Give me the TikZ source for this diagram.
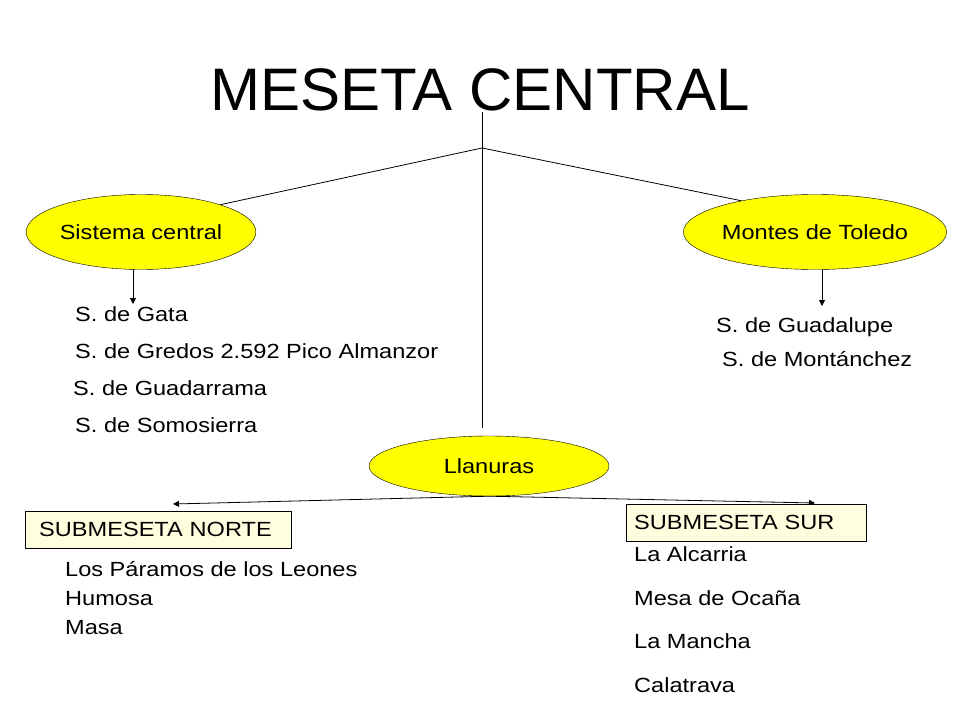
\documentclass[tikz,border=0pt]{standalone}
\usepackage{fontspec}
\setmainfont{Liberation Sans}
\newfontfamily\widefont[FakeStretch=1.15]{Liberation Sans}
\usetikzlibrary{shapes.geometric,arrows.meta}
\definecolor{ylw}{RGB}{255,255,0}
\definecolor{pale}{RGB}{255,255,224}
\begin{document}
\begin{tikzpicture}[x=1pt,y=-1pt,
  ell/.style={ellipse,draw,fill=ylw,inner sep=0pt,font=\widefont\fontsize{20.5}{24}\selectfont},
  lbl/.style={anchor=west,inner sep=0pt,font=\widefont\fontsize{20.5}{24}\selectfont},
  bx/.style={draw,fill=pale,anchor=north west,inner sep=0pt,font=\widefont\fontsize{20.5}{24}\selectfont},
  ln/.style={line width=0.8pt},
  arr/.style={line width=0.8pt,-{Triangle[length=6pt,width=6pt]}}]
\useasboundingbox (0,0) rectangle (960,720);
\node[font=\fontsize{60}{70}\selectfont] (title) at (480,90) {MESETA CENTRAL};
\node[ell,minimum width=213,minimum height=75] (sc) at (141,232) {Sistema central};
\node[ell,minimum width=236,minimum height=75] (mt) at (815,232) {Montes de Toledo};
\node[ell,minimum width=240,minimum height=60] (ll) at (489,466) {Llanuras};
\coordinate (top) at (482,112);
\coordinate (j) at (482,148);
\coordinate (bot) at (482,428);
\draw[ln] (top) -- (bot);
\draw[ln] (j) -- (sc.19);
\draw[ln] (j) -- (mt.157);
\coordinate (a1) at (133,304);
\coordinate (a2) at (822,306);
\draw[arr] (sc.south -| a1) -- (a1);
\draw[arr] (mt.south -| a2) -- (a2);
\coordinate (l1) at (173,504);
\coordinate (l2) at (815,503);
\draw[arr] (ll.south) -- (l1);
\draw[arr] (ll.south) -- (l2);
\node[bx,minimum width=266,minimum height=37,text width=256,align=left] (sn) at (25,511) {\hspace*{9pt}SUBMESETA NORTE};
\node[bx,minimum width=240,minimum height=37,text width=236,align=left] (ss) at (626,504) {\hspace*{6pt}SUBMESETA SUR};
\node[lbl] (t1) at (75,314) {S. de Gata};
\node[lbl] (t2) at (75,351) {S. de Gredos 2.592 Pico Almanzor};
\node[lbl] (t3) at (73,388) {S. de Guadarrama};
\node[lbl] (t4) at (75,425) {S. de Somosierra};
\node[lbl] (r1) at (716,327) {S. de Guadalupe};
\node[lbl] (r2) at (722,359) {S. de Montánchez};
\node[lbl] (n1) at (65,569) {Los Páramos de los Leones};
\node[lbl] (n2) at (65,599) {Humosa};
\node[lbl] (n3) at (65,628) {Masa};
\node[lbl] (s1) at (634,554) {La Alcarria};
\node[lbl] (s2) at (634,598) {Mesa de Ocaña};
\node[lbl] (s3) at (634,641) {La Mancha};
\node[lbl] (s4) at (634,685) {Calatrava};
\end{tikzpicture}
\end{document}
